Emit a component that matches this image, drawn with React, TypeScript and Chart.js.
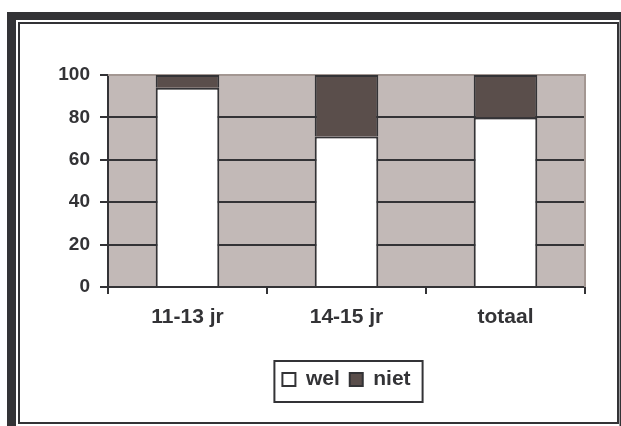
import React, { useEffect, useRef } from "react";
import { Chart, registerables } from "chart.js";

Chart.register(...registerables);

const categories = ["11-13 jr", "14-15 jr", "totaal"];
const welValues = [94, 71, 80];
const nietValues = [6, 29, 20];
const yTicks = [0, 20, 40, 60, 80, 100];

const DARK = "#333336";
const PLOT_BG = "#C2B9B7";
const NIET = "#5A4E4B";
const PLOT_BORDER = "#A39792";
const FONT = "'Liberation Sans', Arial, sans-serif";

const framePlugin = {
  id: "frame",
  beforeDraw(chart: any) {
    const { ctx, chartArea } = chart;
    ctx.save();
    ctx.fillStyle = "#ffffff";
    ctx.fillRect(0, 0, chart.width, chart.height);
    ctx.fillStyle = DARK;
    ctx.fillRect(7, 12, 614, 8);
    ctx.fillRect(7, 12, 9, 414);
    ctx.fillRect(619.5, 12, 1.5, 414);
    ctx.strokeStyle = DARK;
    ctx.lineWidth = 2;
    ctx.strokeRect(19, 23, 599, 400);
    ctx.fillStyle = PLOT_BG;
    ctx.fillRect(chartArea.left, chartArea.top, chartArea.right - chartArea.left, chartArea.bottom - chartArea.top);
    ctx.restore();
  },
  beforeDatasetsDraw(chart: any) {
    const { ctx, chartArea } = chart;
    ctx.save();
    ctx.strokeStyle = PLOT_BORDER;
    ctx.lineWidth = 2;
    ctx.beginPath();
    ctx.moveTo(chartArea.left, chartArea.top);
    ctx.lineTo(chartArea.right, chartArea.top);
    ctx.lineTo(chartArea.right, chartArea.bottom);
    ctx.stroke();
    ctx.restore();
  },
  afterDraw(chart: any) {
    const legend = chart.legend;
    if (!legend || !legend.legendHitBoxes || !legend.legendHitBoxes.length) return;
    const hb = legend.legendHitBoxes;
    const first = hb[0];
    const last = hb[hb.length - 1];
    const { ctx } = chart;
    ctx.save();
    ctx.strokeStyle = DARK;
    ctx.lineWidth = 2;
    const left = first.left - 8;
    const right = last.left + last.width + 12;
    const top = first.top - 8;
    const bottom = first.top + first.height + 12;
    ctx.strokeRect(left, top, right - left, bottom - top);
    ctx.restore();
  },
};

export default function App() {
  const canvasRef = useRef<HTMLCanvasElement | null>(null);

  useEffect(() => {
    if (!canvasRef.current) return;
    const chart = new Chart(canvasRef.current, {
      type: "bar",
      data: {
        labels: categories,
        datasets: [
          {
            label: "wel",
            data: welValues,
            backgroundColor: "#ffffff",
            borderColor: DARK,
            borderWidth: 2,
            barPercentage: 0.4,
            categoryPercentage: 1,
          },
          {
            label: "niet",
            data: nietValues,
            backgroundColor: NIET,
            borderColor: DARK,
            borderWidth: 2,
            barPercentage: 0.4,
            categoryPercentage: 1,
          },
        ],
      },
      options: {
        animation: false,
        responsive: false,
        maintainAspectRatio: false,
        layout: { padding: { left: 20, right: 36, top: 75, bottom: 26 } },
        plugins: {
          tooltip: { enabled: false },
          legend: {
            position: "bottom",
            fullSize: false,
            labels: {
              boxWidth: 13,
              boxHeight: 13,
              padding: 10,
              color: DARK,
              font: { family: FONT, size: 21, weight: "bold" },
            },
          },
        },
        scales: {
          x: {
            stacked: true,
            grid: {
              drawOnChartArea: false,
              drawTicks: true,
              tickLength: 7,
              color: DARK,
              lineWidth: 2,
            },
            border: { display: true, color: DARK, width: 2 },
            ticks: {
              color: DARK,
              padding: 11,
              font: { family: FONT, size: 21, weight: "bold" },
            },
            afterFit(scale: any) {
              scale.height = 72;
            },
          },
          y: {
            stacked: true,
            min: 0,
            max: 100,
            afterBuildTicks(scale: any) {
              scale.ticks = yTicks.map((v) => ({ value: v }));
            },
            grid: {
              color: DARK,
              lineWidth: 2,
              tickLength: 8,
            },
            border: { display: true, color: DARK, width: 2 },
            ticks: {
              color: DARK,
              padding: 10,
              font: { family: FONT, size: 19, weight: "bold" },
            },
            afterFit(scale: any) {
              scale.width = 88;
            },
          },
        },
      },
      plugins: [framePlugin],
    });
    return () => chart.destroy();
  }, []);

  return (
    <div style={{ position: "absolute", left: 0, top: 0, width: 621, height: 426 }}>
      <canvas ref={canvasRef} width={621} height={426} style={{ width: 621, height: 426, display: "block" }} />
    </div>
  );
}
